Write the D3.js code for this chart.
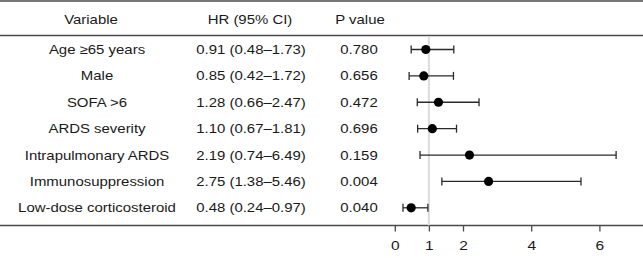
<!DOCTYPE html>
<html>
<head>
<meta charset="utf-8">
<script src="https://cdn.jsdelivr.net/npm/d3@7"></script>
<style>
  body { margin: 0; background: #fff; }
  svg { display: block; }
</style>
</head>
<body>
<div id="chart"></div>
<script>
// data
const variables = ["Age \u226565 years", "Male", "SOFA >6", "ARDS severity",
    "Intrapulmonary ARDS", "Immunosuppression", "Low-dose corticosteroid"];
const hr = [0.91, 0.85, 1.28, 1.10, 2.19, 2.75, 0.48];
const lower = [0.48, 0.42, 0.66, 0.67, 0.74, 1.38, 0.24];
const upper = [1.73, 1.72, 2.47, 1.81, 6.49, 5.46, 0.97];
const pValues = ["0.780", "0.656", "0.472", "0.696", "0.159", "0.004", "0.040"];
const headers = ["Variable", "HR (95% CI)", "P value"];
const xTicks = [0, 1, 2, 4, 6];

const width = 643, height = 258;
const fmt = d3.format(".2f");

const rows = variables.map((v, i) => ({
    name: v, hr: hr[i], lo: lower[i], hi: upper[i], p: pValues[i]
}));

const svg = d3.select("#chart")
    .append("svg")
    .attr("width", width)
    .attr("height", height)
    .attr("font-family", "'Liberation Sans', Arial, Helvetica, sans-serif")
    .attr("fill", "#1a1a1a");

const x = d3.scaleLinear()
    .domain([0, 6])
    .range([394.8, 599.4]);

const y = d3.scalePoint()
    .domain(variables)
    .range([49.5, 207.8]);

const lineTop = 1, lineHead = 35.5, lineBottom = 225.5;

// table rules
[lineTop, lineHead, lineBottom].forEach(ly => {
    svg.append("line")
        .attr("x1", 0).attr("x2", width)
        .attr("y1", ly).attr("y2", ly)
        .attr("stroke", "#4a4a4a")
        .attr("stroke-width", 1.5);
});

// reference line at HR = 1
svg.append("line")
    .attr("x1", x(1)).attr("x2", x(1))
    .attr("y1", lineHead + 1).attr("y2", lineBottom)
    .attr("stroke", "#dcdcdc")
    .attr("stroke-width", 2);

const colX = [97, 251, 359];
const headX = [91, 250, 360];
const sx = 1.15;

function addText(g, tx, ty, str, size) {
    g.append("text")
        .attr("transform", `translate(${tx},${ty}) scale(${sx},1)`)
        .attr("text-anchor", "middle")
        .attr("dy", "0.35em")
        .attr("font-size", size)
        .text(str);
}

// headers
headers.forEach((h, i) => addText(svg, headX[i], 19.5, h, 13));

// table text
rows.forEach(d => {
    addText(svg, colX[0], y(d.name), d.name, 13);
    addText(svg, colX[1], y(d.name), `${fmt(d.hr)} (${fmt(d.lo)}\u2013${fmt(d.hi)})`, 13);
    addText(svg, colX[2], y(d.name), d.p, 13);
});

// whiskers
const ci = svg.append("g")
    .attr("stroke", "#2a2a2a")
    .attr("stroke-width", 1.3);

ci.selectAll(".ci")
    .data(rows)
    .join("line")
    .attr("x1", d => x(d.lo)).attr("x2", d => x(d.hi))
    .attr("y1", d => y(d.name)).attr("y2", d => y(d.name));

ci.selectAll(".capl")
    .data(rows)
    .join("line")
    .attr("x1", d => x(d.lo)).attr("x2", d => x(d.lo))
    .attr("y1", d => y(d.name) - 4).attr("y2", d => y(d.name) + 4);

ci.selectAll(".caph")
    .data(rows)
    .join("line")
    .attr("x1", d => x(d.hi)).attr("x2", d => x(d.hi))
    .attr("y1", d => y(d.name) - 4).attr("y2", d => y(d.name) + 4);

// points
svg.selectAll(".pt")
    .data(rows)
    .join("circle")
    .attr("cx", d => x(d.hr))
    .attr("cy", d => y(d.name))
    .attr("r", 4.6)
    .attr("fill", "#000");

// axis
const axis = svg.append("g")
    .attr("transform", `translate(0,${lineBottom})`)
    .call(d3.axisBottom(x).tickValues(xTicks).tickSize(6).tickPadding(9).tickFormat(d3.format("d")));

axis.select(".domain").remove();
axis.selectAll(".tick line").attr("stroke", "#4a4a4a").attr("stroke-width", 1.3);
axis.selectAll(".tick text")
    .style("font-size", "13.5px")
    .attr("fill", "#1a1a1a")
    .attr("transform", `scale(${sx},1)`)
    .attr("x", 0)
    .style("font-family", "'Liberation Sans', Arial, Helvetica, sans-serif");
</script>
</body>
</html>
